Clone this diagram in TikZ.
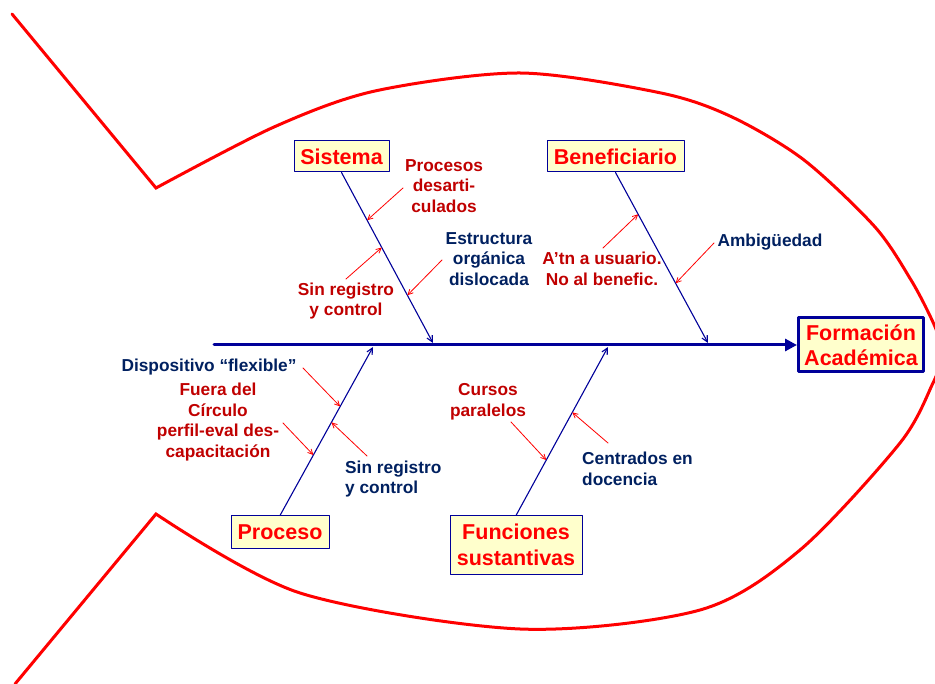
\documentclass[tikz,border=0pt]{standalone}
\usepackage{fontspec}
\setmainfont{Liberation Sans}
\usetikzlibrary{arrows.meta,calc}
\definecolor{rojo}{RGB}{255,0,0}
\definecolor{granate}{RGB}{192,0,0}
\definecolor{azuloscuro}{RGB}{0,32,96}
\definecolor{azul}{RGB}{0,0,153}
\definecolor{crema}{RGB}{255,255,204}
\begin{document}
\begin{tikzpicture}[x=1pt, y=-1pt, line join=round, line cap=round,
    caja/.style={draw=azul, line width=1pt, fill=crema, text=rojo, inner sep=2pt,
      font=\fontsize{21.5}{25.5}\selectfont\bfseries, align=center},
    causa/.style={font=\fontsize{17.3}{20.8}\selectfont\bfseries, inner sep=0pt},
    espina/.style={draw=azul, line width=1.1pt, -{Straight Barb[length=6pt,width=6pt]}},
    flecha/.style={draw=rojo, line width=0.8pt, -{Straight Barb[length=5pt,width=5pt]}}]
  \useasboundingbox (0,0) rectangle (935,684);
  \clip (0,0) rectangle (935,684);

  % silueta del pez
  \draw[rojo, line width=3pt, line join=miter] (12,14) -- (156,188) -- plot[smooth] coordinates {
      (156,188) (274,127) (375,91) (520,73) (661,93) (732,117) (804,160)
      (875,227) (911,280) (932,320) (945,352)};
  \draw[rojo, line width=3pt, line join=miter] (15,684) -- (156,514) -- plot[smooth] coordinates {
      (156,514) (300,593) (520,629) (700,610) (800,550) (900,443) (933,383) (945,352)};

  % efecto y causas
  \node[caja, line width=3pt, minimum width=125pt, minimum height=54pt] (efecto) at (861,345) {Formación\\Académica};
  \node[caja, minimum width=95pt, minimum height=31pt] (sistema) at (341.5,156.5) {Sistema};
  \node[caja, minimum width=137pt, minimum height=31pt] (benef) at (615.5,156.5) {Beneficiario};
  \node[caja, minimum width=98pt, minimum height=32pt] (proceso) at (280,532) {Proceso};
  \node[caja, minimum width=132pt, minimum height=58pt] (funciones) at (516,545) {Funciones\\sustantivas};

  \coordinate (cola) at (214,345);
  \draw[azul, line width=3pt, -{Triangle[length=12pt,width=12pt]}] (cola) -- (efecto.west);

  \coordinate (s1) at (433,343);  \coordinate (s2) at (708,343);
  \coordinate (s3) at (373,347);  \coordinate (s4) at (608,347);
  \draw[espina] (sistema.south) -- (s1);
  \draw[espina] (benef.south) -- (s2);
  \draw[espina] (proceso.north) -- (s3);
  \draw[espina] (funciones.north) -- (s4);

  % subcausas
  \node[causa, text=granate, align=center] (procesos) at (444,186) {Procesos\\desarti-\\culados};
  \node[causa, text=granate, align=center] (sinreg1) at (346,301) {Sin registro\\y control};
  \node[causa, text=azuloscuro, align=center] (estructura) at (489,259) {Estructura\\orgánica\\dislocada};
  \node[causa, text=granate, align=center] (atencion) at (602,269) {A’tn a usuario.\\No al benefic.};
  \node[causa, text=azuloscuro] (ambig) at (770,242) {Ambigüedad};
  \node[causa, text=azuloscuro] (dispositivo) at (209,367) {Dispositivo “flexible”};
  \node[causa, text=granate, align=center] (fuera) at (218,422) {Fuera del\\Círculo\\perfil-eval des-\\capacitación};
  \node[causa, text=azuloscuro, align=left, anchor=west] (sinreg2) at (345,479) {Sin registro\\y control};
  \node[causa, text=granate, align=center] (cursos) at (488,402) {Cursos\\paralelos};
  \node[causa, text=azuloscuro, align=left, anchor=west] (centrados) at (582,469) {Centrados en\\docencia};

  \coordinate (p1) at ($(sistema.south)!.28!(s1)$);
  \coordinate (p2) at ($(sistema.south)!.44!(s1)$);
  \coordinate (p3) at ($(sistema.south)!.72!(s1)$);
  \coordinate (p4) at ($(benef.south)!.245!(s2)$);
  \coordinate (p5) at ($(benef.south)!.65!(s2)$);
  \coordinate (p6) at ($(proceso.north)!.647!(s3)$);
  \coordinate (p7) at ($(proceso.north)!.359!(s3)$);
  \coordinate (p8) at ($(proceso.north)!.553!(s3)$);
  \coordinate (p9) at ($(funciones.north)!.329!(s4)$);
  \coordinate (p10) at ($(funciones.north)!.612!(s4)$);

  \coordinate (c1) at (403,188);  \coordinate (c2) at (346,279);
  \coordinate (c3) at (442,260);  \coordinate (c4) at (603,248);
  \coordinate (c5) at (714,243);  \coordinate (c6) at (303,368);
  \coordinate (c7) at (283,423);  \coordinate (c8) at (367,456);
  \coordinate (c9) at (511,422);  \coordinate (c10) at (608,443);

  \foreach \de/\a in {c1/p1, c2/p2, c3/p3, c4/p4, c5/p5,
                      c6/p6, c7/p7, c8/p8, c9/p9, c10/p10}
    \draw[flecha] (\de) -- (\a);
\end{tikzpicture}
\end{document}
